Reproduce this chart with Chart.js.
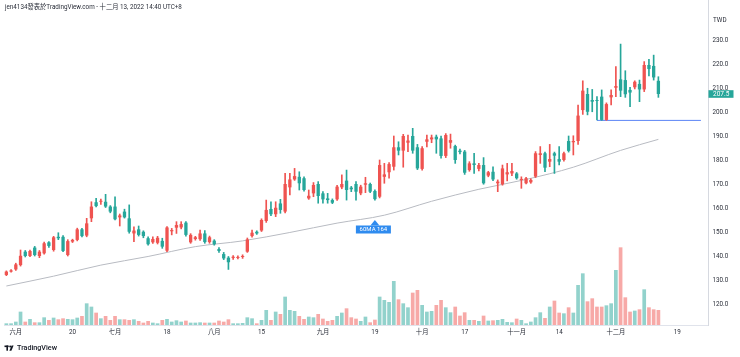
<!DOCTYPE html>
<html>
<head>
<meta charset="utf-8">
<script src="https://cdn.jsdelivr.net/npm/chart.js@4/dist/chart.umd.min.js"></script>
<style>
html,body{margin:0;padding:0;background:#fff;}
canvas{display:block;}
</style>
</head>
<body>
<canvas id="c" width="740" height="357"></canvas>
<script>
// ---- data ----
const dates = [
 '05-30','05-31',
 '06-01','06-02','06-06','06-07','06-08','06-09','06-10','06-13','06-14','06-15','06-16','06-17','06-20','06-21','06-22','06-23','06-24','06-27','06-28','06-29','06-30',
 '07-01','07-04','07-05','07-06','07-07','07-08','07-11','07-12','07-13','07-14','07-15','07-18','07-19','07-20','07-21','07-22','07-25','07-26','07-27','07-28','07-29',
 '08-01','08-02','08-03','08-04','08-05','08-08','08-09','08-10','08-11','08-12','08-15','08-16','08-17','08-18','08-19','08-22','08-23','08-24','08-25','08-26','08-29','08-30','08-31',
 '09-01','09-02','09-05','09-06','09-07','09-08','09-12','09-13','09-14','09-15','09-16','09-19','09-20','09-21','09-22','09-23','09-26','09-27','09-28','09-29','09-30',
 '10-03','10-04','10-05','10-06','10-07','10-11','10-12','10-13','10-14','10-17','10-18','10-19','10-20','10-21','10-24','10-25','10-26','10-27','10-28','10-31',
 '11-01','11-02','11-03','11-04','11-07','11-08','11-09','11-10','11-11','11-14','11-15','11-16','11-17','11-18','11-21','11-22','11-23','11-24','11-25','11-28','11-29','11-30',
 '12-01','12-02','12-05','12-06','12-07','12-08','12-09','12-12','12-13',
 '12-14','12-15','12-16','12-19','12-20','12-21','12-22','12-23','12-26','12-27'
];
const open = [
 132.1,133.5,134.4,136.2,141.8,140.0,143.5,140.0,141.1,145.7,
 142.5,148.0,148.0,140.4,146.0,146.7,151.1,148.5,155.7,162.4,
 162.6,162.6,160.6,160.6,156.1,158.5,155.7,149.4,151.1,150.1,
 147.4,145.7,145.5,146.3,142.2,150.3,151.8,151.9,153.9,145.7,
 147.1,147.0,149.4,145.8,146.4,142.9,140.8,139.3,139.2,139.2,
 139.6,141.8,148.3,150.1,150.6,154.6,159.6,157.4,161.9,158.5,
 168.6,171.9,173.0,172.4,164.0,166.1,170.0,166.1,164.0,163.3,
 163.6,168.6,171.4,168.5,170.0,166.1,169.7,170.0,167.1,164.7,
 173.0,174.9,177.2,185.3,183.9,187.2,190.0,185.3,176.3,187.6,
 188.6,189.7,189.0,181.7,187.2,185.8,183.9,183.5,175.8,178.6,
 176.3,177.9,173.5,175.1,170.3,169.9,174.0,174.4,174.4,171.7,
 170.3,170.7,173.1,182.1,182.8,179.3,182.8,180.4,180.0,187.9,
 187.4,187.9,200.8,207.5,205.0,204.8,206.4,196.7,206.1,210.1,
 213.6,213.3,209.2,210.3,211.7,209.4,219.6,219.2,213.0
];
const high = [
 133.8,134.3,137.0,142.5,142.3,142.5,144.0,142.3,145.8,146.0,
 148.2,149.7,148.5,146.8,147.0,151.6,151.5,155.7,162.6,164.0,
 163.7,165.7,161.0,164.7,157.5,159.5,161.3,152.2,152.5,150.5,
 148.0,148.0,148.2,147.4,152.3,151.5,154.3,154.3,154.3,149.3,
 148.2,150.8,150.6,148.3,146.8,143.5,141.5,139.8,140.2,140.1,
 140.5,147.5,150.8,150.5,155.5,163.3,162.6,162.6,163.6,174.4,
 174.4,176.5,175.1,173.0,167.5,170.6,171.0,166.8,166.1,163.8,
 169.4,173.8,175.8,169.0,171.0,169.5,172.8,170.4,167.6,180.0,
 178.6,178.9,190.0,187.6,190.7,190.4,193.2,186.5,185.6,190.4,
 190.4,190.4,190.0,191.0,190.8,186.2,184.5,184.0,179.3,182.8,
 178.6,181.0,175.3,177.2,171.7,177.9,178.6,178.6,174.8,173.0,
 172.8,172.2,183.5,185.6,183.3,186.5,183.3,185.6,183.3,190.0,
 190.1,202.9,213.0,209.9,209.4,206.4,209.2,203.8,209.2,218.9,
 228.3,217.2,210.3,213.0,213.3,221.0,221.9,223.7,214.7
];
const low = [
 131.8,133.3,134.0,135.8,139.6,139.7,140.0,139.3,140.8,143.6,
 142.0,146.8,141.8,140.0,145.6,146.3,148.0,148.0,154.3,160.4,
 161.5,160.2,158.0,155.0,152.5,155.8,149.5,146.0,148.3,147.6,
 144.5,145.2,145.0,143.2,141.8,148.8,149.4,151.3,148.3,145.3,
 146.6,146.5,145.3,145.3,144.5,141.5,138.5,134.4,138.6,138.8,
 139.0,141.5,147.8,149.0,150.2,154.0,156.8,156.4,157.8,158.0,
 165.4,171.5,167.5,167.0,163.6,164.7,162.0,162.0,162.0,161.8,
 163.2,168.0,163.3,166.8,163.3,165.5,166.4,166.4,163.3,164.2,
 170.3,172.4,175.8,182.1,177.0,183.5,182.8,176.0,175.8,185.5,
 187.2,182.8,180.8,181.0,184.9,178.6,182.5,174.0,175.3,174.4,
 175.5,169.9,173.0,171.4,166.8,169.5,171.3,173.5,172.0,168.2,
 170.0,170.3,172.7,178.6,175.1,177.2,174.4,177.9,179.5,183.3,
 182.1,186.5,199.0,198.8,200.1,196.7,196.5,196.5,203.0,206.4,
 206.4,206.1,202.2,209.6,204.3,208.5,215.0,213.3,206.1
];
const close = [
 133.5,134.0,136.5,140.1,140.0,142.1,140.4,141.8,145.3,144.2,
 147.8,147.4,142.1,146.2,146.7,151.1,148.3,153.6,160.6,160.8,
 163.0,160.6,158.5,155.3,156.9,156.1,150.1,150.6,148.8,148.3,
 144.9,147.1,147.6,143.9,151.9,150.8,152.9,153.3,148.8,148.8,
 147.8,149.4,145.8,147.8,144.9,142.1,139.0,137.4,139.7,139.6,
 140.0,146.9,149.7,149.4,155.0,159.2,157.4,160.1,159.2,170.0,
 171.9,173.3,170.3,167.5,165.1,169.6,165.0,163.6,163.3,162.2,
 168.9,170.0,167.5,167.8,166.8,168.9,170.3,166.8,163.7,177.9,
 174.0,178.3,185.3,183.9,190.0,188.1,183.9,176.5,184.9,188.6,
 189.4,188.6,181.7,190.4,188.3,180.0,183.3,174.7,178.6,177.9,
 177.9,170.3,174.9,171.9,171.0,176.5,174.9,175.4,172.4,172.1,
 172.4,171.7,182.8,182.8,176.8,180.4,181.8,179.3,182.8,183.8,
 187.9,198.5,208.9,200.1,204.3,204.6,196.7,203.3,207.1,210.8,
 208.9,207.4,208.1,212.6,209.4,219.6,217.9,214.4,207.5
];
const volume = [
 500,500,1000,4000,1000,1800,800,800,2300,1500,
 2200,1700,2000,1800,1700,2200,2700,6500,5500,3700,
 2000,2700,1500,2700,1700,1700,1500,1700,1200,700,
 1200,700,500,1500,1800,1000,1400,1000,1300,700,
 700,800,700,700,700,1300,1000,1700,500,500,
 600,2300,2000,500,1500,4500,1500,4000,3300,8500,
 4500,4200,2700,1800,2500,2300,3300,1900,1200,1500,
 2700,3700,5000,2300,1900,1200,2500,800,1600,8500,
 7500,6900,13200,7700,6500,5300,9700,10500,6000,4000,
 4200,6000,7500,5300,3800,5500,2800,3800,1500,1500,
 1200,2800,1300,1400,1500,1800,900,800,1900,1500,
 500,1000,2300,3800,2100,5500,7300,3700,3500,5300,
 3700,12000,15500,7100,8000,5500,5500,5900,6500,16500,
 23300,8300,4000,4300,4700,10700,5300,4700,4500
];
// 60-day moving average read at a few bars
const maIdx = [0,10,20,30,40,50,60,70,80,90,100,110,120,130,138];
const maVal = [127.5,131.6,136.2,139.8,143.9,146.3,149.8,153.7,157.0,162.8,167.8,171.9,177.0,184.0,188.6];
const yTicks = [120,130,140,150,160,170,180,190,200,210,220,230];
const xTickDates = ['06-01','06-20','07-01','07-18','08-01','08-15','09-01','09-19','10-03','10-17','11-01','11-14','11-30','12-19'];
const xTickTexts = ['六月','20','七月','18','八月','15','九月','19','十月','17','十一月','14','十二月','19'];
const supportLevel = 196.5;
const supportFrom = '11-24', supportTo = '12-26';
const maLabelDate = '09-19', maLabelValue = 155, maLabelText = '60MA 164';
const lastPrice = 207.5;
const titleText = 'jen4134發表於TradingView.com - 十二月 13, 2022 14:40 UTC+8';

// ---- styles ----
const UP = '#ef5350', DOWN = '#26a69a';
const VUP = 'rgba(38,166,154,0.5)', VDOWN = 'rgba(239,83,80,0.5)';
const FONT = 'Roboto, "Noto Sans CJK TC", "Noto Sans", sans-serif';
const isUp = i => close[i] >= open[i];

const tickMap = {};
xTickDates.forEach((d, k) => { tickMap[dates.indexOf(d)] = xTickTexts[k]; });

const wickData = low.map((l, i) => [l, high[i]]);
const bodyData = open.map((o, i) => [o, close[i]]);
const maData = maIdx.map((ix, k) => ({x: dates[ix], y: maVal[k]}));
const supData = [{x: supportFrom, y: supportLevel}, {x: supportTo, y: supportLevel}];

const overlay = {
  id: 'overlay',
  afterDatasetsDraw(chart) {
    const ctx = chart.ctx, xs = chart.scales.x, ys = chart.scales.y;
    ctx.save();
    // 60MA callout
    const px = xs.getPixelForValue(dates.indexOf(maLabelDate));
    const py = ys.getPixelForValue(maLabelValue);
    ctx.fillStyle = '#2f8bef';
    ctx.beginPath();
    ctx.moveTo(px, py);
    ctx.lineTo(px + 4.5, py + 5.5);
    ctx.lineTo(px - 4.5, py + 5.5);
    ctx.closePath();
    ctx.fill();
    ctx.fillRect(px - 19, py + 5.5, 35, 8);
    ctx.fillStyle = '#ffffff';
    ctx.font = '6px ' + FONT;
    ctx.textAlign = 'center';
    ctx.textBaseline = 'middle';
    ctx.fillText(maLabelText, px - 1.5, py + 9.7);
    ctx.restore();
  },
  afterDraw(chart) {
    const ctx = chart.ctx, ys = chart.scales.y, ca = chart.chartArea;
    ctx.save();
    // title
    ctx.fillStyle = '#2a2e39';
    ctx.font = '6.3px ' + FONT;
    ctx.textAlign = 'left';
    ctx.textBaseline = 'middle';
    ctx.fillText(titleText, 5, 7.5);
    // currency
    ctx.fillStyle = '#2a2e39';
    ctx.font = '6.3px ' + FONT;
    ctx.fillText('TWD', ca.right + 5, 20);
    // last price box
    const ly = ys.getPixelForValue(lastPrice);
    ctx.fillStyle = DOWN;
    ctx.fillRect(ca.right + 0.5, ly - 3.8, 25, 7.6);
    ctx.fillStyle = '#ffffff';
    ctx.font = '6.5px ' + FONT;
    ctx.fillText(lastPrice.toFixed(1), ca.right + 5, ly + 0.3);
    // TradingView logo
    ctx.fillStyle = '#131722';
    ctx.fillRect(4.5, 345.5, 4.2, 1.6);
    ctx.fillRect(6.4, 345.5, 1.6, 5.2);
    ctx.beginPath(); ctx.arc(10.2, 346.6, 1, 0, Math.PI * 2); ctx.fill();
    ctx.beginPath();
    ctx.moveTo(11.6, 345.5); ctx.lineTo(13.6, 345.5); ctx.lineTo(11.4, 350.7); ctx.lineTo(9.4, 350.7);
    ctx.closePath(); ctx.fill();
    ctx.font = '500 7.2px ' + FONT;
    ctx.textBaseline = 'middle';
    ctx.fillText('TradingView', 17, 348.5);
    ctx.restore();
  }
};

new Chart(document.getElementById('c'), {
  type: 'bar',
  data: {
    labels: dates,
    datasets: [
      {
        label: 'Volume', yAxisID: 'yv', data: volume, order: 5,
        backgroundColor: ctx => isUp(ctx.dataIndex) ? VUP : VDOWN,
        categoryPercentage: 1, barPercentage: 0.78, borderWidth: 0, grouped: false
      },
      {
        type: 'line', label: 'MA60', yAxisID: 'y', data: maData, order: 4,
        borderColor: '#b8bbc2', borderWidth: 1, pointRadius: 0, spanGaps: true,
        cubicInterpolationMode: 'monotone', fill: false
      },
      {
        type: 'line', label: 'Support', yAxisID: 'y', data: supData, order: 3,
        borderColor: '#5b84f5', borderWidth: 1, pointRadius: 0, fill: false, tension: 0
      },
      {
        label: 'Wick', yAxisID: 'y', data: wickData, order: 2,
        backgroundColor: ctx => isUp(ctx.dataIndex) ? UP : DOWN,
        barThickness: 1, borderWidth: 0, grouped: false
      },
      {
        label: 'Body', yAxisID: 'y', data: bodyData, order: 1,
        backgroundColor: ctx => isUp(ctx.dataIndex) ? UP : DOWN,
        categoryPercentage: 1, barPercentage: 0.7, borderWidth: 0, grouped: false, minBarLength: 1
      }
    ]
  },
  options: {
    responsive: false,
    animation: false,
    devicePixelRatio: 1,
    layout: {padding: {left: 4, top: 0, right: 0, bottom: 0}},
    plugins: {legend: {display: false}, tooltip: {enabled: false}, title: {display: false}},
    scales: {
      x: {
        type: 'category', offset: true,
        grid: {display: false, drawTicks: false},
        border: {display: true, color: '#e0e3eb', width: 1},
        ticks: {
          autoSkip: false, maxRotation: 0, minRotation: 0, padding: 3.5,
          color: '#2a2e39', font: {family: FONT, size: 6.3},
          callback: (v, i) => tickMap[i] || ''
        },
        afterFit: s => { s.height = 32; s.paddingLeft = 0; s.paddingRight = 0; }
      },
      y: {
        position: 'right', min: 111.25, max: 246.667,
        grid: {display: false, drawTicks: false},
        border: {display: true, color: '#d6d9e0', width: 1},
        ticks: {
          padding: 4.5, color: '#2a2e39', font: {family: FONT, size: 6.3},
          callback: v => Number(v).toFixed(1)
        },
        afterBuildTicks: s => { s.ticks = yTicks.map(v => ({value: v})); },
        afterFit: s => { s.width = 32; s.paddingTop = 0; s.paddingBottom = 0; }
      },
      yv: {
        display: false, min: 0, max: 97500
      }
    }
  },
  plugins: [overlay]
});
</script>
</body>
</html>
